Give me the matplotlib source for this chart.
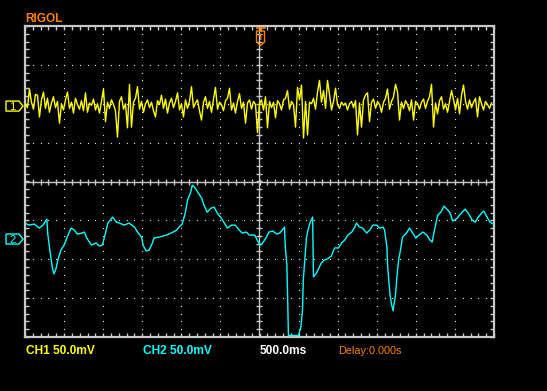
import numpy as np
import matplotlib
matplotlib.use('Agg')
import matplotlib.pyplot as plt
from matplotlib.patches import Polygon
from matplotlib import font_manager as fm

# ---------------- data ----------------
# CH1 (yellow) samples in mV, uniform sample clock
ch1_t0 = -2.994          # s
ch1_dt = 0.02559         # s per sample
ch1_mv = [
    3, -2, 22, 5, -4, 15, 14, -14, 8, 18, -3, 10, -8, 4, 12, -2, 6, -22, 3, -5,
    8, 18, -3, 5, -9, 10, 2, -4, 7, -6, 17, -8, 4, 1, 9, -5, 3, -9, 6, 22,
    -20, 5, -3, 8, 2, -6, -40, 6, 12, -4, 3, -28, 28, -27, 5, 10, 25, -4, 6, -8,
    3, 8, -2, 5, -6, -14, 7, 2, 14, -3, 9, -9, 4, 10, -2, 6, 17, -5, 3, -14,
    8, -3, 6, 25, -2, 4, 8, -6, -18, 5, 12, -3, 6, -8, 9, 24, -4, 5, 2, -6,
    7, 10, 23, -5, 4, -9, 6, 16, -3, 5, -22, 4, 8, -4, 6, 2, -34, 3, 8, -5,
    12, -28, 6, -2, 5, -15, 7, 3, -5, 8, 10, 20, -4, 6, 2, -27, 24, 8, 27, -41,
    6, -37, 5, 3, 10, -4, 18, 33, 5, 20, -3, 33, 15, -5, 6, 23, 2, -3, 5, 1,
    4, -5, 3, 6, -2, 7, -37, 4, -27, 8, 14, 17, -20, 5, 9, -3, 6, 2, -8, 5,
    10, 22, -4, 6, 12, 28, 18, -18, 5, -3, 7, 2, -6, 8, -18, 6, 3, -4, 5, 9,
    -3, 6, 12, 28, -27, 4, -10, 7, 12, -4, 3, -8, 6, 20, 8, -5, 10, -10, 14, 27,
    6, -4, 8, -2, 5, 10, -14, 12, 3, -5, 6, 2, -3, 4,
]

# CH2 (cyan) trace: time (s) and value (mV)
ch2_t = [
    -3.00, -2.95, -2.88, -2.82, -2.77, -2.72, -2.71, -2.67, -2.65, -2.63,
    -2.60, -2.58, -2.54, -2.50, -2.46, -2.41, -2.37, -2.33, -2.27, -2.24,
    -2.21, -2.15, -2.09, -2.05, -2.01, -1.97, -1.94, -1.88, -1.83, -1.79,
    -1.73, -1.67, -1.60, -1.56, -1.51, -1.49, -1.45, -1.41, -1.37, -1.35,
    -1.28, -1.19, -1.13, -1.06, -1.03, -0.99, -0.95, -0.92, -0.88, -0.86,
    -0.83, -0.79, -0.74, -0.71, -0.67, -0.62, -0.58, -0.54, -0.49, -0.45,
    -0.41, -0.36, -0.31, -0.26, -0.22, -0.17, -0.13, -0.06, -0.03, 0.01,
    0.04, 0.09, 0.12, 0.17, 0.22, 0.26, 0.29, 0.32, 0.33, 0.35,
    0.36, 0.37, 0.50, 0.53, 0.55, 0.56, 0.58, 0.60, 0.62, 0.65,
    0.68, 0.685, 0.69, 0.73, 0.76, 0.79, 0.83, 0.87, 0.92, 0.96,
    1.01, 1.05, 1.09, 1.13, 1.18, 1.22, 1.24, 1.28, 1.32, 1.37,
    1.41, 1.45, 1.50, 1.54, 1.58, 1.60, 1.63, 1.64, 1.67, 1.69,
    1.71, 1.72, 1.74, 1.76, 1.78, 1.81, 1.83, 1.88, 1.92, 1.96,
    2.00, 2.04, 2.09, 2.14, 2.18, 2.21, 2.23, 2.26, 2.28, 2.32,
    2.36, 2.41, 2.44, 2.47, 2.53, 2.56, 2.63, 2.67, 2.72, 2.76,
    2.79, 2.85, 2.87, 2.91, 2.95, 2.99,
]
ch2_mv = [
    20.5, 17.9, 19.2, 14.1, 17.9, 25.6, 7.7, -23.1, -37.2, -44.9,
    -37.2, -26.9, -14.1, -7.7, 2.6, 14.1, 11.5, 6.4, 7.7, 9.0,
    1.3, -7.7, -5.1, -9.0, -7.7, 7.7, 20.5, 28.2, 21.8, 20.5,
    17.9, 20.5, 15.4, 9.0, 2.6, -7.7, -15.4, -14.1, -5.1, 1.3,
    2.6, 5.1, 7.7, 11.5, 15.4, 19.2, 33.3, 50.0, 60.3, 69.2,
    66.7, 60.3, 52.6, 43.6, 34.6, 39.7, 41.0, 33.3, 26.9, 20.5,
    14.1, 17.9, 17.9, 11.5, 7.7, 9.0, 5.1, 5.1, -1.3, -7.7,
    -5.1, 2.6, 9.0, 10.3, 6.4, 7.7, 11.5, 15.4, -10.3, -33.3,
    -75.6, -124.0, -124.0, -112.8, -91.0, -52.6, -26.9, 1.3, 11.5, 21.8,
    28.2, -10.3, -48.7, -43.6, -37.2, -30.8, -26.9, -25.6, -21.8, -11.5,
    -11.5, -5.1, -1.3, 5.1, 9.0, 15.4, 20.5, 15.4, 14.1, 7.7,
    11.5, 17.9, 17.9, 14.1, 15.4, 11.5, -10.3, -35.9, -71.8, -84.6,
    -92.3, -84.6, -71.8, -46.2, -26.9, -10.3, 2.6, 7.7, 14.1, 7.7,
    1.3, 5.1, 9.0, 5.1, -1.3, -3.8, 7.7, 21.8, 30.8, 34.6,
    42.3, 37.2, 33.3, 23.1, 26.9, 30.8, 38.5, 33.3, 24.4, 21.8,
    26.9, 34.6, 35.9, 28.2, 21.8, 19.2,
]

ch1_scale = 50.0     # mV/div
ch2_scale = 50.0     # mV/div
time_div = 0.5       # s/div
ch1_pos = 1.94       # div
ch2_pos = -1.48      # div

label_ch1 = "CH1 50.0mV"
label_ch2 = "CH2 50.0mV"
label_time = "500.0ms"
label_delay = "Delay:0.000s"
brand = "RIGOL"

# ---------------- style ----------------
YEL = '#ffff00'
CYN = '#00ffff'
ORG = '#ff8000'
GRID = '#c8c8c8'

installed = {f.name for f in fm.fontManager.ttflist}
if 'Liberation Sans Narrow' in installed:
    FONT = ['Liberation Sans Narrow', 'DejaVu Sans']
    FS = 10.0
    FS_DELAY = 9.5
else:
    FONT = ['Liberation Sans', 'DejaVu Sans']
    FS = 8.6
    FS_DELAY = 7.8

W, H = 547, 391
L, R, T, B = 25, 494, 26, 337

fig = plt.figure(figsize=(W / 100, H / 100), dpi=100, facecolor='black')
ax = fig.add_axes([L / W, 1 - B / H, (R - L) / W, (B - T) / H])
ax.set_facecolor('black')
ax.set_xlim(-6 * time_div, 6 * time_div)
ax.set_ylim(-4, 4)

for s in ax.spines.values():
    s.set_color(GRID)
    s.set_linewidth(1.6)

ax.set_xticks(np.arange(-3, 3.001, 0.1))
ax.set_yticks(np.arange(-4, 4.001, 0.2))
ax.tick_params(which='both', direction='in', length=3, width=1, color=GRID,
               top=True, right=True, labelbottom=False, labelleft=False)

# dotted graticule
ys = np.arange(-4, 4.001, 0.2)
for xv in np.arange(-2.5, 2.501, 0.5):
    if abs(xv) < 1e-9:
        continue
    ax.plot(np.full_like(ys, xv), ys, ls='none', marker='s', ms=0.8, mew=0,
            color='#e0e0e0', zorder=1)
xs = np.arange(-3, 3.001, 0.1)
for yv in [-3, -2, -1, 1, 2, 3]:
    ax.plot(xs, np.full_like(xs, yv), ls='none', marker='s', ms=0.8, mew=0,
            color='#e0e0e0', zorder=1)

# center cross with ticks
ax.axvline(0, color=GRID, lw=1, zorder=1)
ax.axhline(0, color=GRID, lw=1, zorder=1)
ax.plot(np.zeros_like(ys), ys, ls='none', marker='_', ms=4, mew=1, color=GRID, zorder=1)
ax.plot(xs, np.zeros_like(xs), ls='none', marker='|', ms=4, mew=1, color=GRID, zorder=1)

# traces
ch1_t = ch1_t0 + ch1_dt * np.arange(len(ch1_mv))
ax.plot(ch1_t, np.array(ch1_mv) / ch1_scale + ch1_pos, color=YEL, lw=1.0, zorder=3)
ax.plot(ch2_t, np.array(ch2_mv) / ch2_scale + ch2_pos, color=CYN, lw=1.0, zorder=3)

# overlay in pixel coordinates for markers / labels
ov = fig.add_axes([0, 0, 1, 1])
ov.set_xlim(0, W)
ov.set_ylim(H, 0)
ov.axis('off')
ov.patch.set_alpha(0)

def ch_marker(pos, text, color):
    y = T + (4 - pos) * (B - T) / 8
    ov.add_patch(Polygon([(6, y - 5), (19, y - 5), (23, y), (19, y + 5), (6, y + 5)],
                         closed=True, fill=False, edgecolor=color, lw=1))
    ov.text(12.5, y + 0.5, text, color=color, fontsize=8, ha='center', va='center',
            family=FONT)

ch_marker(ch1_pos, '1', YEL)
ch_marker(ch2_pos, '2', CYN)

# trigger position marker
ov.plot([256.5, 264.5], [27.5, 27.5], color=ORG, lw=1.2)
ov.plot([260.5, 260.5], [27.5, 31], color=ORG, lw=1)
ov.add_patch(Polygon([(256.5, 31), (264.5, 31), (264.5, 42), (260.5, 45.5), (256.5, 42)],
                     closed=True, fill=False, edgecolor=ORG, lw=1))
ov.text(260.5, 37.5, 'T', color=ORG, fontsize=6.5, ha='center', va='center',
        family=FONT, fontweight='bold')

# labels
ov.text(25, 22, brand, color=ORG, fontsize=FS, fontweight='bold', family=FONT,
        va='baseline', ha='left')
ov.text(26, 354, label_ch1, color=YEL, fontsize=FS, fontweight='bold', family=FONT,
        va='baseline', ha='left')
ov.text(143, 354, label_ch2, color=CYN, fontsize=FS, fontweight='bold', family=FONT,
        va='baseline', ha='left')
ov.text(260, 354, label_time, color='white', fontsize=FS, fontweight='bold', family=FONT,
        va='baseline', ha='left')
ov.text(338, 354, label_delay, color=ORG, fontsize=FS_DELAY, family=FONT,
        va='baseline', ha='left')

fig.savefig('out.png', dpi=100, facecolor='black')
